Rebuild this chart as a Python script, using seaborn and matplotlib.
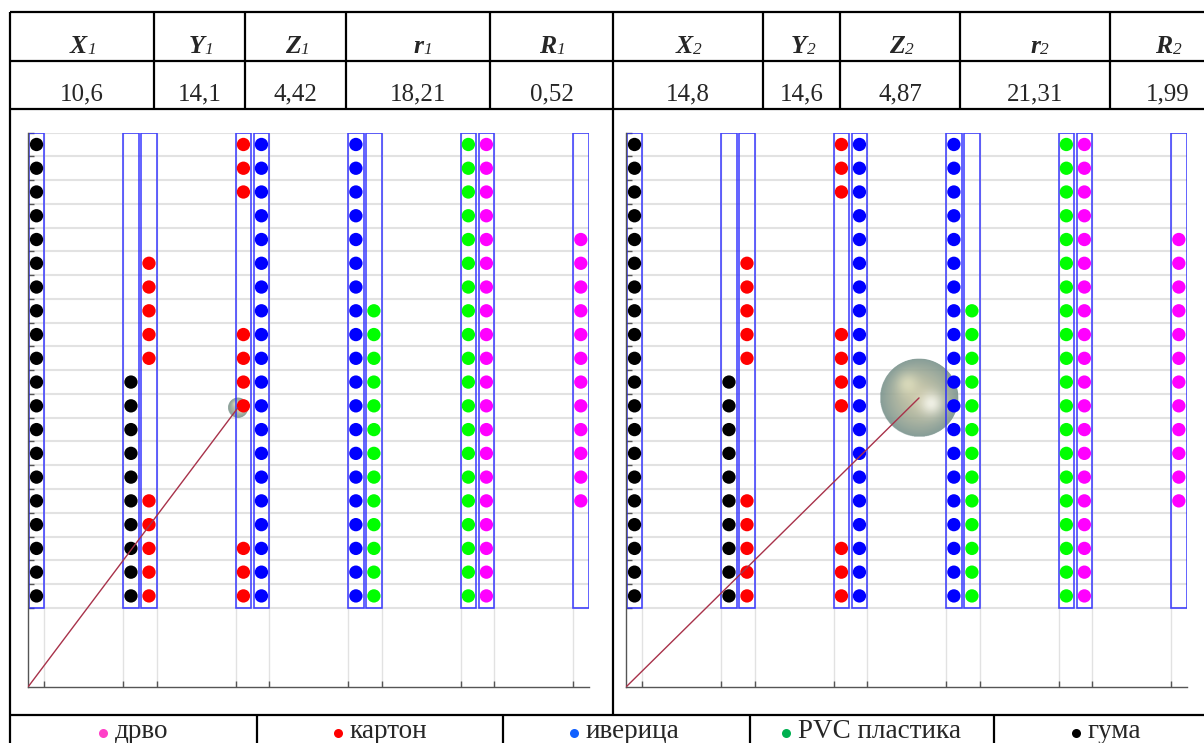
import numpy as np
import pandas as pd
import matplotlib
matplotlib.use("Agg")
import matplotlib.pyplot as plt
import seaborn as sns
from matplotlib.lines import Line2D
from matplotlib.patches import Circle, Rectangle

# ---------------------------------------------------------------- data
header_names = ["X", "Y", "Z", "r", "R"]
case1_values = [10.6, 14.1, 4.42, 18.21, 0.52]   # X1, Y1, Z1, r1, R1
case2_values = [14.8, 14.6, 4.87, 21.31, 1.99]   # X2, Y2, Z2, r2, R2

# strip centres along the horizontal axis (cm) and the material of each strip
strip_x = [0.43, 5.20, 6.11, 10.88, 11.79, 16.56, 17.47, 22.24, 23.15, 27.92]
strip_material = ["гума", "гума", "картон", "картон", "иверица",
                  "иверица", "PVC пластика", "PVC пластика", "дрво", "дрво"]

# vertical sensor levels, top to bottom (cm)
row_y = [27.4, 26.2, 25.0, 23.8, 22.6, 21.4, 20.2, 19.0, 17.8, 16.6,
         15.4, 14.2, 13.0, 11.8, 10.6, 9.4, 8.2, 7.0, 5.8, 4.6]

# occupied levels of every strip, top to bottom (1 = material present)
strip_fill = [
    "11111111111111111111",
    "00000000001111111111",
    "00000111110000011111",
    "11100000111100000111",
    "11111111111111111111",
    "11111111111111111111",
    "00000001111111111111",
    "11111111111111111111",
    "11111111111111111111",
    "00001111111111110000",
]

legend_labels = ["дрво", "картон", "иверица", "PVC пластика", "гума"]

# ---------------------------------------------------------------- styles
dot_palette = {"гума": "#000000", "картон": "#ff0000", "иверица": "#0000ff",
               "PVC пластика": "#00ff00", "дрво": "#ff00ff"}
legend_colors = {"дрво": "#ff40c8", "картон": "#ff0000", "иверица": "#1060ff",
                 "PVC пластика": "#00b050", "гума": "#000000"}

sns.set_theme(style="white")
plt.rcParams["font.family"] = ["Liberation Serif", "DejaVu Serif"]

W, H = 1204, 743
fig = plt.figure(figsize=(W / 100, H / 100), dpi=100)
fig.patch.set_facecolor("white")


def fx(px):
    return px / W


def fy(py):
    return 1 - py / H


def hline(y, x0, x1, lw=1.6):
    fig.add_artist(Line2D([fx(x0), fx(x1)], [fy(y), fy(y)], color="black",
                          lw=lw, solid_capstyle="butt"))


def vline(x, y0, y1, lw=1.6):
    fig.add_artist(Line2D([fx(x), fx(x)], [fy(y0), fy(y1)], color="black",
                          lw=lw, solid_capstyle="butt"))


# ---------------------------------------------------------------- frame table
TOP, MID, TAB_BOT, LEG_TOP = 12, 61, 109, 715
LEFT, SPLIT, RIGHT = 10, 613, 1230
hline(TOP, LEFT, RIGHT)
hline(MID, LEFT, RIGHT)
hline(TAB_BOT, LEFT, RIGHT)
hline(LEG_TOP, LEFT, RIGHT)
vline(LEFT, TOP, H + 5)
vline(SPLIT, TOP, LEG_TOP)

cell_edges = [[10, 154, 245, 346, 490, 613], [613, 763, 840, 960, 1110, 1225]]
for edges in cell_edges:
    for e in edges[1:-1]:
        vline(e, TOP, TAB_BOT)

for idx, (edges, vals) in enumerate(zip(cell_edges, [case1_values, case2_values])):
    for j, (name, v) in enumerate(zip(header_names, vals)):
        cx = (edges[j] + edges[j + 1]) / 2
        # symbol in bold italic, index as a smaller italic suffix
        fig.text(fx(cx + 5), fy(53), name, ha="right", va="baseline",
                 fontsize=18.5, fontweight="bold", fontstyle="italic")
        fig.text(fx(cx + 5), fy(54), str(idx + 1), ha="left", va="baseline",
                 fontsize=12.5, fontstyle="italic")
        fig.text(fx(cx), fy(100), str(v).replace(".", ","),
                 ha="center", va="baseline", fontsize=18)

# ---------------------------------------------------------------- legend row
for e in [257, 503, 750, 994]:
    vline(e, LEG_TOP, H + 5)
legend_pos = [(103, 115), (338, 350), (574, 586), (786, 798), (1076, 1088)]
for lab, (bx, tx) in zip(legend_labels, legend_pos):
    fig.add_artist(Line2D([fx(bx)], [fy(733)], marker="o", ms=6.5, mew=0,
                          color=legend_colors[lab], linestyle="none"))
    fig.text(fx(tx), fy(738), lab, ha="left", va="baseline", fontsize=19.5)

# ---------------------------------------------------------------- dot panels
rows = []
for xs, mat, fill in zip(strip_x, strip_material, strip_fill):
    for yv, flag in zip(row_y, fill):
        if flag == "1":
            rows.append({"x": xs, "y": yv, "material": mat})
dots = pd.DataFrame(rows)

SCALE = 19.8           # pixels per cm
XMAX, YMAX = 28.33, 28.0
half_w = 0.39
row_edges = [row_y[0] + 0.6] + [y - 0.6 for y in row_y]
first_of_pair = [False, True, False, True, False, True, False, True, False, True]
xticks = [x - half_w if f else x + half_w for x, f in zip(strip_x, first_of_pair)]


def sphere_image(n=200):
    u = np.linspace(-1, 1, n)
    uu, vv = np.meshgrid(u, u[::-1])
    d = np.sqrt(uu ** 2 + vv ** 2)
    inner = np.array([0.76, 0.75, 0.62])
    edge = np.array([0.47, 0.57, 0.55])
    t = np.clip(d, 0, 1) ** 1.5
    rgb = inner[None, None, :] * (1 - t[..., None]) + edge[None, None, :] * t[..., None]
    for cx, cy, s, a, col in [(-0.3, 0.35, 0.2, 0.6, (0.93, 0.92, 0.76)),
                              (0.3, -0.15, 0.2, 0.85, (0.97, 0.97, 0.93))]:
        g = a * np.exp(-((uu - cx) ** 2 + (vv - cy) ** 2) / (2 * s ** 2))
        rgb = rgb * (1 - g[..., None]) + np.array(col)[None, None, :] * g[..., None]
    alpha = np.where(d <= 1, 0.9, 0.0)
    return np.dstack([rgb, alpha])


for k, (ox, vals) in enumerate(zip([28, 626], [case1_values, case2_values])):
    ax = fig.add_axes([fx(ox), fy(687), XMAX * SCALE / W, YMAX * SCALE / H])
    ax.set_xlim(0, XMAX)
    ax.set_ylim(0, YMAX)
    ax.set_facecolor("white")

    for y in row_edges:
        ax.axhline(y, color="#e2e2e2", lw=1.5, zorder=0)
    for x in xticks:
        ax.axvline(x, color="#e2e2e2", lw=1.0, zorder=0)

    for x in strip_x:
        ax.add_patch(Rectangle((x - half_w, row_edges[-1]), 2 * half_w,
                               row_edges[0] - row_edges[-1], fill=False,
                               edgecolor="#2828ff", lw=1.2, alpha=0.85, zorder=2))

    sns.scatterplot(data=dots, x="x", y="y", hue="material", palette=dot_palette,
                    s=92, linewidth=0, legend=False, ax=ax, zorder=3)

    X, Y, Z, r, R = vals
    img = ax.imshow(sphere_image(), extent=[X - R, X + R, Y - R, Y + R],
                    zorder=1.5, interpolation="bilinear", aspect="auto")
    img.set_clip_path(Circle((X, Y), R, transform=ax.transData))
    ax.plot([0, X], [0, Y], color="#a8324a", lw=1.0, zorder=4)

    ax.set_xlim(0, XMAX)
    ax.set_ylim(0, YMAX)
    ax.set_xticks(xticks)
    ax.set_yticks(row_edges)
    ax.set_xticklabels([])
    ax.set_yticklabels([])
    ax.set_xlabel("")
    ax.set_ylabel("")
    ax.tick_params(direction="in", length=4, width=1, color="#555555",
                   bottom=True, left=True)
    for side in ["top", "right"]:
        ax.spines[side].set_visible(False)
    for side in ["left", "bottom"]:
        ax.spines[side].set_color("#555555")
        ax.spines[side].set_linewidth(1.0)

fig.savefig("out.png", dpi=100)
